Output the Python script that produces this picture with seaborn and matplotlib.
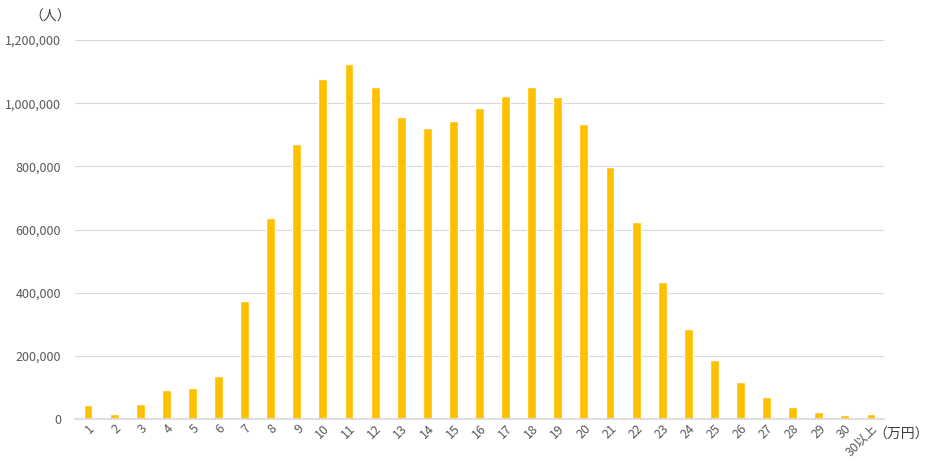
import pandas as pd
import matplotlib.pyplot as plt
import seaborn as sns

# --- データ ---
categories = [str(i) for i in range(1, 31)] + ['30以上']
values = [44000, 15000, 47000, 92000, 98000, 136000, 374000, 636000, 871000,
          1076000, 1124000, 1051000, 956000, 921000, 943000, 985000, 1023000,
          1051000, 1019000, 934000, 798000, 624000, 434000, 285000, 187000,
          117000, 70000, 38000, 21000, 12000, 15000]
y_ticks = [0, 200000, 400000, 600000, 800000, 1000000, 1200000]

sns.set_theme(style="white")
plt.rcParams['font.family'] = ['Noto Sans CJK JP', 'DejaVu Sans']

df = pd.DataFrame({'区分': categories, '人数': values})

fig = plt.figure(figsize=(9.29, 4.70), dpi=100)
ax = fig.add_axes([75 / 929, 51 / 470, 809 / 929, 379 / 470])
sns.barplot(data=df, x='区分', y='人数', color='#FFC000', width=0.34,
            saturation=1, ax=ax)

ax.set_ylim(0, 1200000)
ax.set_xlim(-0.5, len(categories) - 0.5)
ax.set_yticks(y_ticks)
ax.set_yticklabels([f'{v:,}' for v in y_ticks])
ax.yaxis.grid(True, color='#d9d9d9', linewidth=0.8)
ax.set_axisbelow(True)
for s in ['top', 'right', 'left']:
    ax.spines[s].set_visible(False)
ax.spines['bottom'].set_color('#d9d9d9')
ax.tick_params(axis='y', colors='#595959', labelsize=9, length=0, pad=10)
ax.tick_params(axis='x', colors='#595959', labelsize=9, length=0, pad=2)
for lbl in ax.get_xticklabels():
    lbl.set_rotation(45)
    lbl.set_ha('right')
    lbl.set_rotation_mode('anchor')
ax.set_xlabel('')
ax.set_ylabel('')

fig.text(50 / 929, 1 - 17 / 470, '（人）', ha='center', va='center',
         fontsize=10, color='#404040')
fig.text(929 / 929, 1 - 435 / 470, '（万円）', ha='right', va='center',
         fontsize=10, color='#404040')

plt.savefig('out.png', dpi=100)
plt.close()
